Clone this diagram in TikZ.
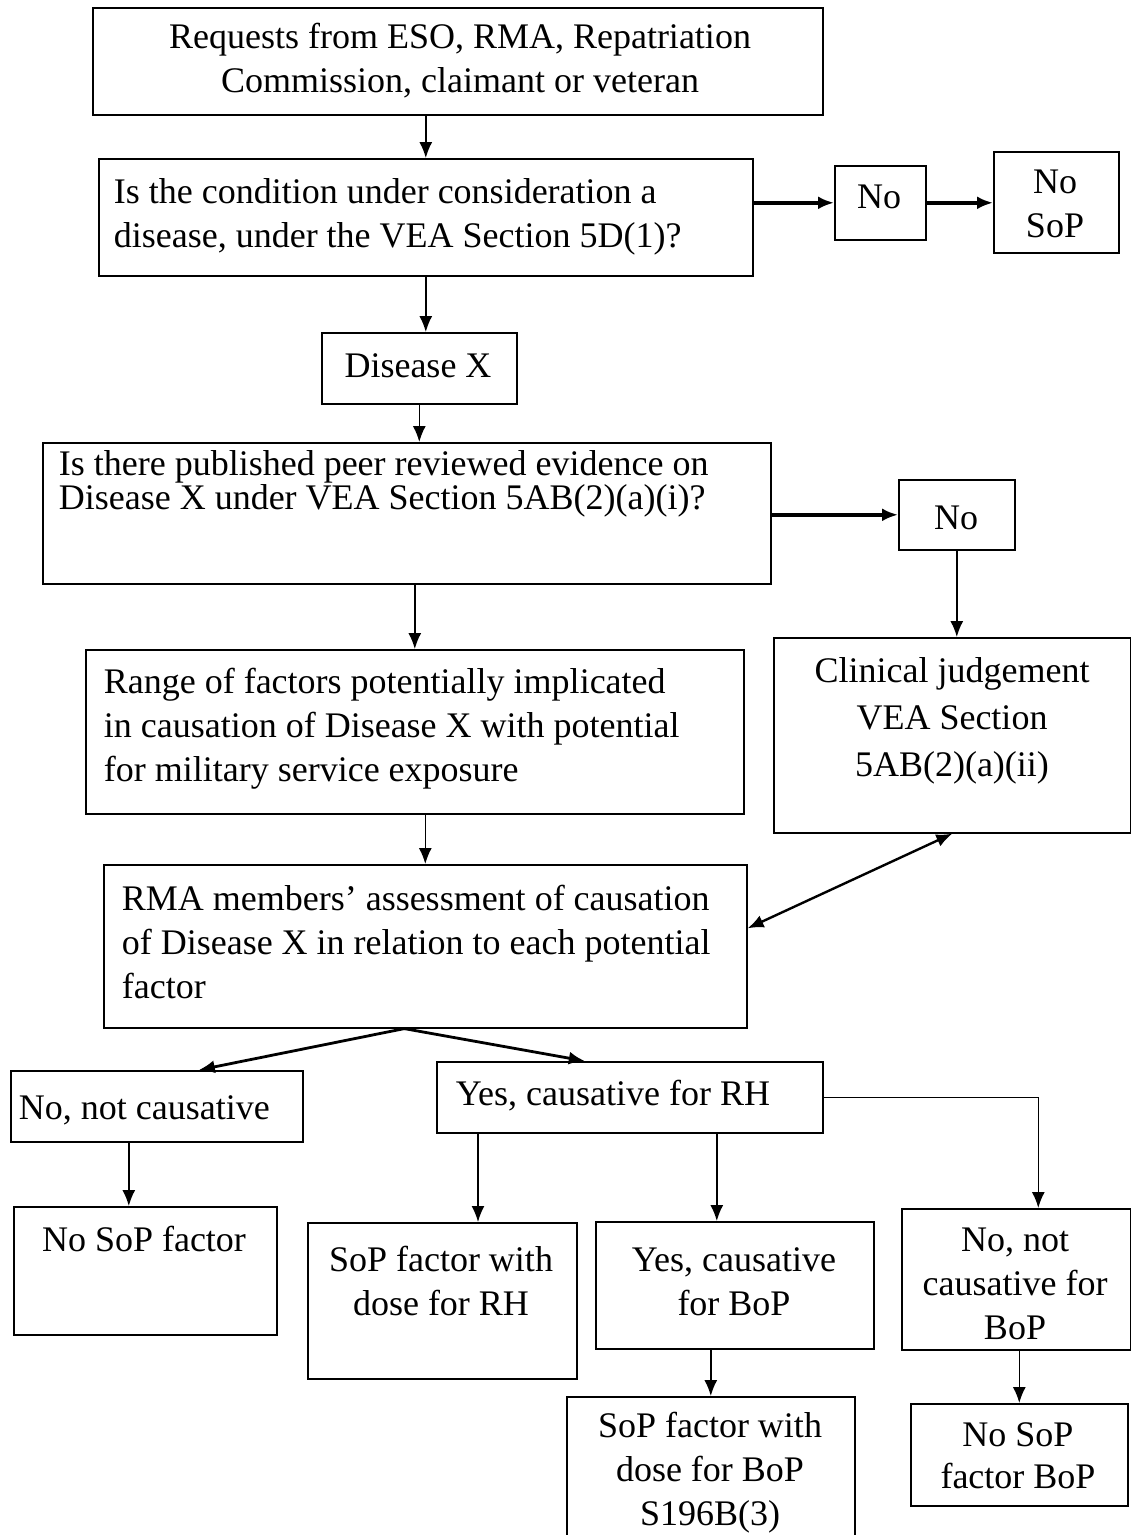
\documentclass[tikz,border=0pt]{standalone}
\usepackage{fontspec}
\setmainfont{Liberation Serif}
\usetikzlibrary{arrows.meta}

\newcommand{\topstrut}{\rule{0pt}{30pt}}

\tikzset{
  box/.style={draw, line width=1.6pt, anchor=north west, inner sep=0pt},
  txt/.style={inner sep=0pt, font=\fontsize{36}{44}\selectfont},
  ltxt/.style={txt, anchor=north west, align=left},
  ctxt/.style={txt, anchor=north, align=center},
  heavy/.style={line width=3.6pt}
}

\begin{document}
\begin{tikzpicture}[x=1pt,y=-1pt,>={Latex[length=16pt,width=13pt]},line width=1.6pt]
  \clip (0,0) rectangle (1131,1535);

  \node[box, minimum width=730pt, minimum height=107pt] (req)       at (92,7)     {};
  \node[box, minimum width=654pt, minimum height=117pt] (cond)      at (98,158)   {};
  \node[box, minimum width=91pt,  minimum height=74pt]  (no1)       at (834,165)  {};
  \node[box, minimum width=125pt, minimum height=101pt] (nosop1)    at (993,151)  {};
  \node[box, minimum width=195pt, minimum height=71pt]  (disx)      at (321,332)  {};
  \node[box, minimum width=728pt, minimum height=141pt] (pub)       at (42,442)   {};
  \node[box, minimum width=116pt, minimum height=70pt]  (no2)       at (898,479)  {};
  \node[box, minimum width=658pt, minimum height=164pt] (range)     at (85,649)   {};
  \node[box, minimum width=357pt, minimum height=195pt] (clin)      at (773,637)  {};
  \node[box, minimum width=643pt, minimum height=163pt] (rma)       at (103,864)  {};
  \node[box, minimum width=292pt, minimum height=71pt]  (nocaus)    at (10,1070)  {};
  \node[box, minimum width=386pt, minimum height=71pt]  (yesrh)     at (436,1061) {};
  \node[box, minimum width=263pt, minimum height=128pt] (nosopf)    at (13,1206)  {};
  \node[box, minimum width=269pt, minimum height=156pt] (soprh)     at (307,1222) {};
  \node[box, minimum width=278pt, minimum height=127pt] (yesbop)    at (595,1221) {};
  \node[box, minimum width=229pt, minimum height=141pt] (nocausbop) at (901,1208) {};
  \node[box, minimum width=288pt, minimum height=150pt] (sopbop)    at (566,1396) {};
  \node[box, minimum width=217pt, minimum height=102pt] (nosopbop)  at (910,1403) {};

  \node[ctxt] (reqtxt)       at (460,18)   {\topstrut Requests from ESO, RMA, Repatriation\\Commission, claimant or veteran};
  \node[ltxt] (condtxt)      at (113,173)  {\topstrut Is the condition under consideration a\\disease, under the VEA Section 5D(1)?};
  \node[ctxt] (no1txt)       at (879,178)  {\topstrut No};
  \node[ctxt] (nosop1txt)    at (1055,163) {\topstrut No\\SoP};
  \node[ctxt] (disxtxt)      at (418,347)  {\topstrut Disease X};
  \node[ltxt, font=\fontsize{36}{34}\selectfont] (pubtxt) at (58,445)
        {\topstrut Is there published peer reviewed evidence on\\Disease X under VEA Section 5AB(2)(a)(i)?};
  \node[ctxt] (no2txt)       at (956,499)  {\topstrut No};
  \node[ltxt] (rangetxt)     at (103,663)  {\topstrut Range of factors potentially implicated\\in causation of Disease X with potential\\for military service exposure};
  \node[ctxt] (clintxt)      at (952,652)  {\topstrut Clinical judgement\\[3pt]VEA Section\\[3pt]5AB(2)(a)(ii)};
  \node[ltxt] (rmatxt)       at (121,880)  {\topstrut RMA members’ assessment of causation\\of Disease X in relation to each potential\\factor};
  \node[ltxt] (nocaustxt)    at (18,1089)  {\topstrut No, not causative};
  \node[ltxt] (yesrhtxt)     at (455,1075) {\topstrut Yes, causative for RH};
  \node[ctxt] (nosopftxt)    at (144,1221) {\topstrut No SoP factor};
  \node[ctxt] (soprhtxt)     at (441,1241) {\topstrut SoP factor with\\dose for RH};
  \node[ctxt] (yesboptxt)    at (734,1241) {\topstrut Yes, causative\\for BoP};
  \node[ctxt] (nocausboptxt) at (1015,1221) {\topstrut No, not\\causative for\\BoP};
  \node[ctxt] (sopboptxt)    at (710,1407) {\topstrut SoP factor with\\dose for BoP\\S196B(3)};
  \node[ctxt] (nosopboptxt)  at (1018,1416) {\topstrut No SoP\\[-2pt]factor BoP};

  \coordinate (split) at ([xshift=-21pt]rma.south);

  \path[->]
        (req.south -| cond.north) edge (cond.north)
        (cond.east |- no1.west) edge [heavy] (no1.west)
        (no1.east) edge [heavy] (nosop1.west |- no1.east)
        (cond.south) edge (cond.south |- disx.north)
        (disx.south) edge (disx.south |- pub.north)
        (pub.east |- no2.west) edge [heavy] (no2.west)
        (no2.south) edge (no2.south |- clin.north)
        (range.north |- pub.south) edge (range.north)
        (rma.north |- range.south) edge (rma.north)
        (split) edge [line width=2.8pt] ([xshift=42pt]nocaus.north)
        (split) edge [line width=2.8pt] ([xshift=-45pt]yesrh.north)
        ([xshift=-28pt]nocaus.south) edge ([xshift=-28pt]nocaus.south |- nosopf.north)
        ([xshift=42pt]yesrh.south west) edge ([xshift=42pt]yesrh.south west |- soprh.north)
        ([xshift=-18pt]yesbop.north |- yesrh.south) edge ([xshift=-18pt]yesbop.north)
        (sopbop.north |- yesbop.south) edge (sopbop.north)
        (nosopbop.north |- nocausbop.south) edge (nosopbop.north);
  \draw[<->, line width=2.4pt] (clin.south) -- ([yshift=18pt]rma.east);
  \draw[->] (yesrh.east) -| ([xshift=22pt]nocausbop.north);
\end{tikzpicture}
\end{document}
